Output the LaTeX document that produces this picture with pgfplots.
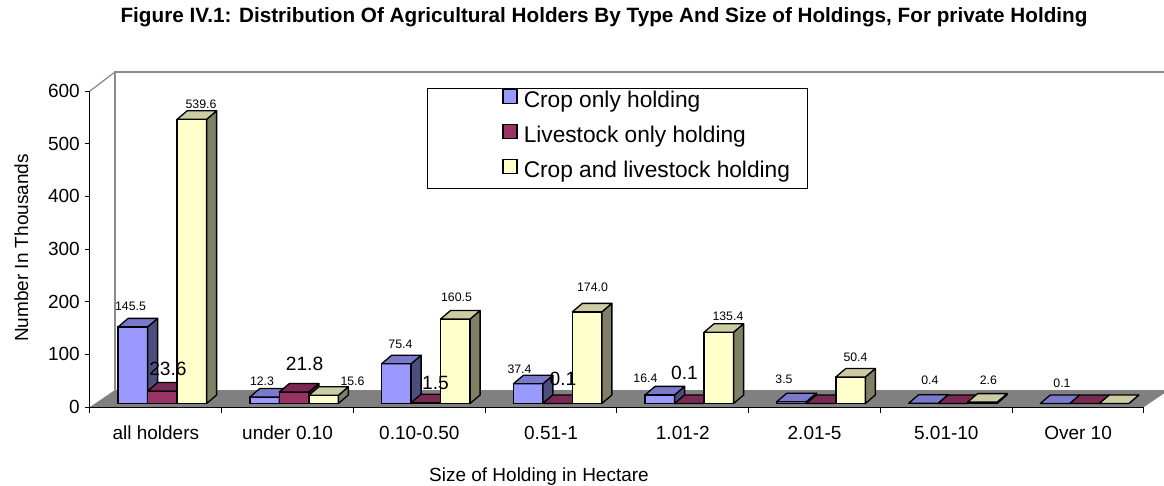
\documentclass[border=0pt]{standalone}
\usepackage{pgfplots}
\pgfplotsset{compat=1.18}
\usepackage{pgfplotstable}
\usepackage{fontspec}
\setmainfont{Liberation Sans}

\definecolor{bfront}{HTML}{9999FF}
\definecolor{bside}{HTML}{4D4D80}
\definecolor{btop}{HTML}{7A7ACC}
\definecolor{mfront}{HTML}{993366}
\definecolor{mside}{HTML}{4D1A33}
\definecolor{mtop}{HTML}{7A2952}
\definecolor{yfront}{HTML}{FFFFCC}
\definecolor{yside}{HTML}{808066}
\definecolor{ytop}{HTML}{CCCCA3}
\definecolor{floorgray}{HTML}{808080}
\definecolor{wallgray}{HTML}{8C8C8C}

% 3D side and top faces of a bar, drawn at the bar's data point
\newcommand\defbox[3]{%
  \pgfdeclareplotmark{#1}{%
    \pgfmathsetlengthmacro\bh{\barv*0.526667pt}%
    \pgfsetlinewidth{1.3pt}\pgfsetroundjoin
    \pgfsetstrokecolor{black}%
    \pgfsetfillcolor{#2}%
    \pgfpathmoveto{\pgfpoint{14.75pt}{0pt}}%
    \pgfpathlineto{\pgfpoint{24.75pt}{8.5pt}}%
    \pgfpathlineto{\pgfpoint{24.75pt}{8.5pt-\bh}}%
    \pgfpathlineto{\pgfpoint{14.75pt}{-\bh}}%
    \pgfpathclose
    \pgfusepath{fill,stroke}%
    \pgfsetfillcolor{#3}%
    \pgfpathmoveto{\pgfpoint{-14.75pt}{0pt}}%
    \pgfpathlineto{\pgfpoint{14.75pt}{0pt}}%
    \pgfpathlineto{\pgfpoint{24.75pt}{8.5pt}}%
    \pgfpathlineto{\pgfpoint{-4.75pt}{8.5pt}}%
    \pgfpathclose
    \pgfusepath{fill,stroke}%
  }}
\defbox{boxB}{bside}{btop}
\defbox{boxM}{mside}{mtop}
\defbox{boxY}{yside}{ytop}
\pgfdeclareplotmark{nomark}{}

% x: category, v: value, dx/dy: label offset (pt), s: label shown
\pgfplotstableread{
x v dx dy s
0 145.5 -2.4 23.7 1
1 12.3 -2.6 19.5 1
2 75.4 4.1 22.8 1
3 37.4 -8.6 18.3 1
4 16.4 -14.4 19.9 1
5 3.5 -7.6 26.2 1
6 0.4 6.6 26.8 1
7 0.1 6.9 23.9 1
}\tblue
\pgfplotstableread{
x v dx dy s
0 23.6 5.6 26.1 1
1 21.8 10.4 32 1
2 1.5 9.6 23.7 1
3 0.1 5.4 28.4 1
4 0.1 -4.9 34.4 1
5 0 0 0 0
6 0 0 0 0
7 0 0 0 0
}\tmaroon
\pgfplotstableread{
x v dx dy s
0 539.6 9.1 18.8 1
1 15.6 28.9 17.8 1
2 160.5 1.1 25.5 1
3 174.0 5.4 28.4 1
4 135.4 9.1 19.7 1
5 50.4 4.9 23 1
6 2.6 6.1 25.6 1
7 0 0 0 0
}\tyellow

\pgfplotsset{
  front/.style={ybar, bar width=29.5pt, bar shift=0pt, fill=#1, draw=black, line width=1.3pt,
    yshift=3.5pt,
    legend image code/.code={\path (-75pt,0pt);
      \draw[fill=#1, draw=black, line width=1.3pt] (0pt,-3.5pt) rectangle (14pt,10.5pt);}},
  faces/.style={scatter, only marks, mark=#1, yshift=3.5pt,
    scatter/@pre marker code/.code={},
    scatter/@post marker code/.code={},
    point meta=y,
    visualization depends on={y \as \barv},
    forget plot},
  labels/.style={scatter, only marks, mark=nomark,
    scatter/@pre marker code/.code={},
    scatter/@post marker code/.code={},
    point meta=y,
    visualization depends on={\thisrow{dx} \as \lbx},
    visualization depends on={\thisrow{dy} \as \lby},
    visualization depends on={\thisrow{s} \as \lbs},
    nodes near coords={\ifdim\lbs pt>0.5pt \pgfmathprintnumber[fixed,fixed zerofill,precision=1]{\pgfplotspointmeta}\fi},
    every node near coord/.append style={anchor=center, xshift=\lbx pt, yshift=\lby pt,
      inner sep=0pt, font=#1, text=black},
    forget plot},
}

\begin{document}
\begin{tikzpicture}
\useasboundingbox (-90pt,-78pt) rectangle (1074pt,407pt);
\begin{axis}[
  at={(0pt,0pt)}, anchor=south west,
  scale only axis, width=1054pt, height=316pt,
  xmin=-0.5, xmax=7.5, ymin=0, ymax=600,
  clip=false, clip marker paths=true, axis on top,
  axis x line*=bottom, axis y line*=left,
  axis line style={-, black, line width=1pt},
  x axis line style={-}, y axis line style={-},
  xtick={0,...,7},
  xticklabels={all holders, under 0.10, 0.10-0.50, 0.51-1, 1.01-2, 2.01-5, 5.01-10, Over 10},
  minor xtick={-0.5,0.5,...,7.5},
  ytick={0,100,...,600},
  tick align=outside, major tick length=5pt, minor tick length=6pt,
  tick style={black, line width=1pt},
  major x tick style={draw=none},
  /pgf/number format/assume math mode=true,
  tick label style={font=\fontsize{19}{23}\selectfont},
  yticklabel style={anchor=east, inner sep=0pt, xshift=-5pt},
  xticklabel style={anchor=base, inner sep=0pt, yshift=-27pt},
  ylabel={Number In Thousands},
  ylabel style={at={(axis description cs:-0.0588,0.5032)}, anchor=base, rotate=0,
    font=\fontsize{19}{23}\selectfont},
  xlabel={Size of Holding in Hectare},
  xlabel style={at={(axis description cs:0.4260,-0.2373)}, anchor=base,
    font=\fontsize{19}{23}\selectfont},
  title={Figure IV.1: Distribution Of Agricultural Holders By Type And Size of Holdings, For private Holding},
  title style={at={(axis description cs:0.4877,1.1984)}, anchor=base,
    font=\bfseries\fontsize{20.7}{25}\selectfont},
  legend style={at={(axis description cs:0.3197,1.0095)}, anchor=north west,
    draw=black, line width=1pt, fill=white,
    inner xsep=0pt, inner ysep=0pt, row sep=5pt, column sep=6pt,
    font=\fontsize{22.7}{27}\selectfont,
    nodes={inner sep=0pt, text height=19pt, text depth=11pt}},
  legend cell align=left,
]
% floor and back wall
\fill[floorgray] (axis cs:-0.5,0) -- (axis cs:7.5,0) -- ++(25pt,17pt)
  -- ([shift={(25pt,17pt)}]axis cs:-0.5,0) -- cycle;
\draw[wallgray, line width=1.3pt] ([shift={(25pt,17pt)}]axis cs:-0.5,0)
  -- ([shift={(25pt,19pt)}]axis cs:-0.5,600) -- ([shift={(80pt,19pt)}]axis cs:7.5,600);
\draw[wallgray, line width=1.3pt] (axis cs:-0.5,600) -- ([shift={(25pt,19pt)}]axis cs:-0.5,600);

\addplot[front=bfront] table[x expr=\thisrow{x}-0.17457, y=v] {\tblue};
\addlegendentry{\makebox[284pt][l]{Crop only holding}}
\addplot[faces=boxB] table[x expr=\thisrow{x}-0.17457, y=v] {\tblue};

\addplot[front=mfront] table[x expr=\thisrow{x}+0.04934, y=v] {\tmaroon};
\addlegendentry{\makebox[284pt][l]{Livestock only holding}}
\addplot[faces=boxM] table[x expr=\thisrow{x}+0.04934, y=v] {\tmaroon};

\addplot[front=yfront] table[x expr=\thisrow{x}+0.27324, y=v] {\tyellow};
\addlegendentry{\makebox[284pt][l]{Crop and livestock holding}}
\addplot[faces=boxY] table[x expr=\thisrow{x}+0.27324, y=v] {\tyellow};

% data labels, drawn over all bars
\addplot[labels={\fontsize{12.3}{14}\selectfont}] table[x expr=\thisrow{x}-0.17457, y=v] {\tblue};
\addplot[labels={\fontsize{19.2}{23}\selectfont}] table[x expr=\thisrow{x}+0.04934, y=v] {\tmaroon};
\addplot[labels={\fontsize{12.3}{14}\selectfont}] table[x expr=\thisrow{x}+0.27324, y=v] {\tyellow};
\end{axis}
\end{tikzpicture}
\end{document}
